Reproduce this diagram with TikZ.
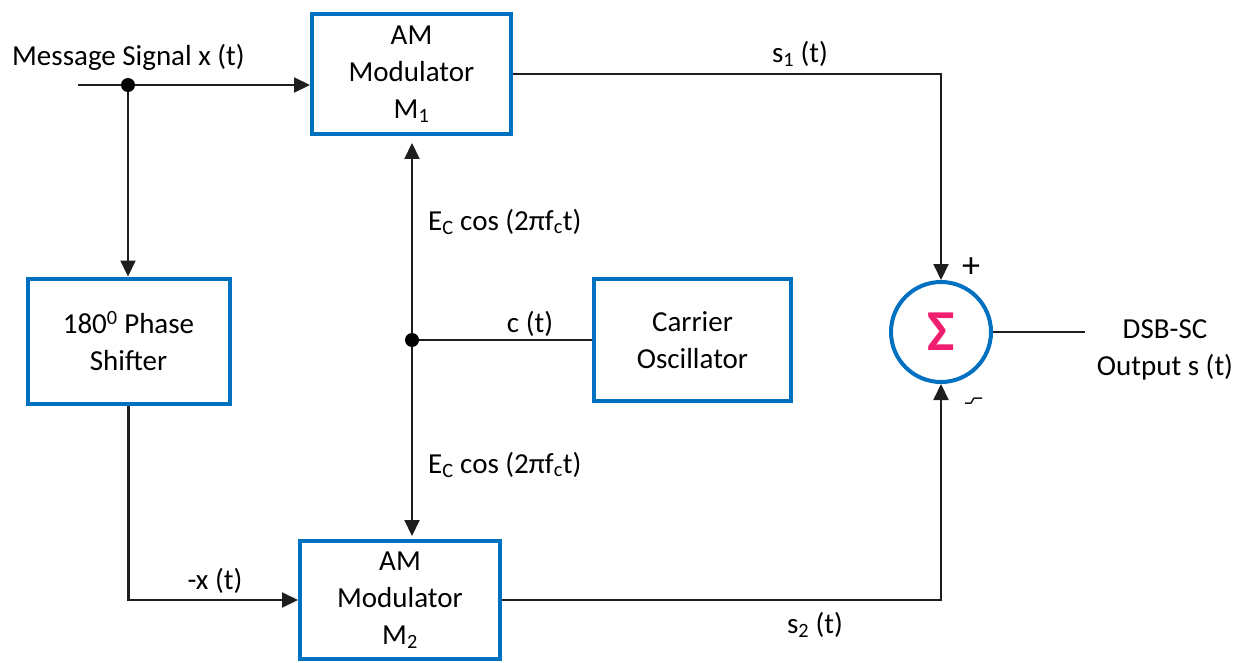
\documentclass[tikz,border=0pt]{standalone}
\usepackage{fontspec}
\setmainfont{Carlito}
\usetikzlibrary{arrows.meta}
\definecolor{boxblue}{RGB}{0,112,192}
\definecolor{sigmared}{RGB}{240,30,110}
\definecolor{wiregray}{RGB}{30,30,30}
\begin{document}
\begin{tikzpicture}[x=1pt,y=-1pt,
  blk/.style={draw=boxblue, line width=4pt, align=center, inner sep=0pt, font=\fontsize{29}{37}\selectfont},
  wire/.style={line width=2.1pt, draw=wiregray},
  arr/.style={wire, -{Triangle[length=16pt,width=15pt]}},
  lbl/.style={font=\fontsize{29}{37}\selectfont, inner sep=0pt, align=center},
  jdot/.style={circle, fill=black, minimum size=14pt, inner sep=0pt}]
\useasboundingbox (0,0) rectangle (1241,663);

% blocks
\node[blk, minimum width=199pt, minimum height=120pt] (m1) at (411.5,74) {AM\\Modulator\\M\textsubscript{1}};
\node[blk, minimum width=200pt, minimum height=118pt] (m2) at (400,600) {AM\\Modulator\\M\textsubscript{2}};
\node[blk, minimum width=202pt, minimum height=125pt] (ps) at (128.5,341) {180\textsuperscript{0} Phase\\Shifter};
\node[blk, minimum width=197pt, minimum height=122pt] (co) at (692.5,340) {Carrier\\Oscillator};
\node[circle, draw=boxblue, line width=4pt, minimum size=100pt, inner sep=0pt,
      text=sigmared, font=\fontsize{58}{58}\selectfont\bfseries] (sum) at (941,332) {Σ};

% input
\coordinate (in) at (78,85);
\node[jdot] (d1) at (128,85) {};
\draw[wire] (in) -- (d1);
\draw[arr] (d1) -- (m1.west |- d1);
\draw[arr] (d1) -- (d1 |- ps.north);
\draw[arr] (ps.south) -- (ps.south |- m2.west) -- (m2.west);

% carrier
\node[jdot] (d2) at (412,340) {};
\draw[wire] (d2) -- (co.west);
\draw[arr, shorten >=7pt] (d2) -- (d2 |- m1.south);
\draw[arr, shorten >=3pt] (d2) -- (d2 |- m2.north);

% outputs
\draw[arr] (m1.east) -- (sum.north |- m1.east) -- (sum.north);
\draw[arr] (m2.east) -- (sum.south |- m2.east) -- (sum.south);
\coordinate (out) at (1085,332);
\draw[wire] (sum.east) -- (out);

% labels
\node[lbl, anchor=west] (lin) at (12,57) {Message Signal x (t)};
\node[lbl] (ls1) at (800,54) {s\textsubscript{1} (t)};
\node[lbl] (ls2) at (815,625) {s\textsubscript{2} (t)};
\node[lbl] (lct) at (530,324) {c (t)};
\node[lbl] (lmx) at (215,581) {-x (t)};
\node[lbl, anchor=west] (le1) at (428,222) {E\textsubscript{C} cos (2πf\textsubscript{c}t)};
\node[lbl, anchor=west] (le2) at (428,465) {E\textsubscript{C} cos (2πf\textsubscript{c}t)};
\node[lbl] (lout) at (1165,350) {DSB-SC\\Output s (t)};
\node[inner sep=0pt, font=\fontsize{36}{36}\selectfont] (lplus) at (971,268) {+};
\draw[line width=1.5pt, draw=wiregray] (965,403) -- (971,403) -- (974,398) -- (982,398);
\end{tikzpicture}
\end{document}
